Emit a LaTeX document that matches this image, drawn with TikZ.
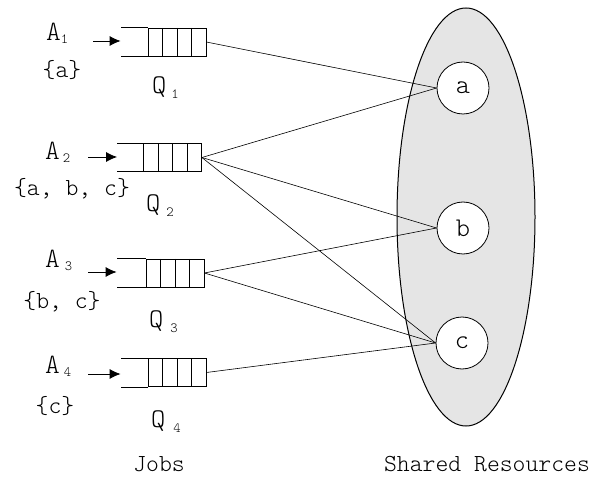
\documentclass[tikz,border=0pt]{standalone}
\usepackage{fontspec}
\setmainfont{Latin Modern Mono Light}
\usetikzlibrary{arrows.meta,shapes.geometric}
\newcommand{\Albl}[2]{{\fontsize{28}{28}\selectfont A}\hspace{#2}{\fontsize{14}{14}\selectfont\raisebox{-3pt}{#1}}}
\newcommand{\Qlbl}[2]{{\fontsize{27}{27}\selectfont Q}\hspace{#2}{\fontsize{14}{14}\selectfont\raisebox{-5pt}{#1}}}
\begin{document}
\begin{tikzpicture}[x=1pt,y=-1pt,
  thin line/.style={line width=0.8pt},
  qbox/.style={draw, thin line, rectangle, minimum width=58pt, minimum height=28pt, inner sep=0pt,
    path picture={\foreach \i in {1,2,3} \draw[thin line] ([xshift=\i*14.5pt]path picture bounding box.north west) -- ([xshift=\i*14.5pt]path picture bounding box.south west);}},
  rescircle/.style={draw, thin line, circle, fill=white, minimum size=52pt, inner sep=0pt, font=\fontsize{27}{27}\selectfont},
  lbl/.style={inner sep=0pt, font=\fontsize{24.5}{24.5}\selectfont},
  sublbl/.style={inner sep=0pt, anchor=base west},
  arr/.style={thin line, -{Latex[length=11pt,width=10pt]}},
  link/.style={line width=0.6pt}
]
\useasboundingbox (0,0) rectangle (602,478);

% shared resources
\node[ellipse, draw, line width=1pt, fill=black!10, minimum width=138pt, minimum height=418pt, inner sep=0pt] (res) at (466,217) {};
\node[rescircle] (ra) at (463,88) {a};
\node[rescircle] (rb) at (463,228) {b};
\node[rescircle] (rc) at (462,343) {c};

% queues
\node[qbox] (q1) at (177,42) {};
\node[qbox] (q2) at (172.5,157.5) {};
\node[qbox] (q3) at (175,273) {};
\node[qbox] (q4) at (177,372.5) {};
\foreach \q/\o in {q1/27,q2/26,q3/29,q4/27}{
  \draw[thin line] (\q.north west) -- ++(-\o,0);
  \draw[thin line] (\q.south west) -- ++(-\o,0);
  \coordinate (\q-in) at ([xshift=-\o pt]\q.west);
}

% arrivals
\coordinate (s1) at (93,41);
\coordinate (s2) at (88,157);
\coordinate (s3) at (88,272);
\coordinate (s4) at (88,374);
\draw[arr] (s1) -- (q1-in |- s1);
\draw[arr] (s2) -- (q2-in |- s2);
\draw[arr] (s3) -- (q3-in |- s3);
\draw[arr] (s4) -- (q4-in |- s4);

% labels A
\node[sublbl] (a1) at (46,41) {\Albl{1}{0pt}};
\node[sublbl] (a2) at (45,160) {\Albl{2}{3pt}};
\node[sublbl] (a3) at (45,268) {\Albl{3}{5pt}};
\node[sublbl] (a4) at (45,373) {\Albl{4}{4pt}};

\node[lbl] (r1) at (62,70) {\{a\}};
\node[lbl] (r2) at (72,189) {\{a, b, c\}};
\node[lbl] (r3) at (62,302) {\{b, c\}};
\node[lbl] (r4) at (55,406) {\{c\}};

\node[sublbl] (ql1) at (152,94) {\Qlbl{1}{5pt}};
\node[sublbl] (ql2) at (146,212) {\Qlbl{2}{6pt}};
\node[sublbl] (ql3) at (149,327) {\Qlbl{3}{7pt}};
\node[sublbl] (ql4) at (151,427) {\Qlbl{4}{8pt}};

% links
\draw[link] (q1.east) -- (ra.west);
\draw[link] (q2.east) -- (ra.west);
\draw[link] (q2.east) -- (rb.west);
\draw[link] (q2.east) -- (rc.west);
\draw[link] (q3.east) -- (rb.west);
\draw[link] (q3.east) -- (rc.west);
\draw[link] (q4.east) -- (rc.west);

% captions
\node[lbl, anchor=base, text depth=0pt] (jobs) at (159,471) {Jobs};
\node[lbl, anchor=base, text depth=0pt] (shr) at (487,471) {Shared Resources};
\end{tikzpicture}
\end{document}
